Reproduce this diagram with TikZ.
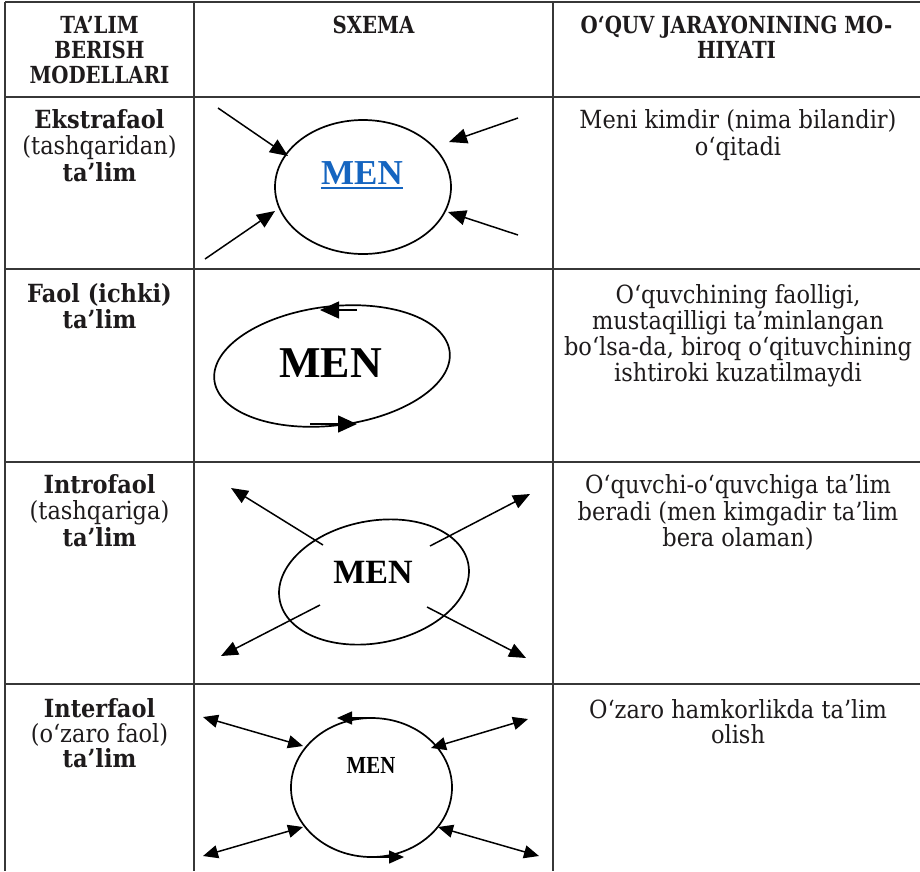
\documentclass[tikz,border=0pt]{standalone}
\usepackage{fontspec}
\setmainfont{DejaVu Serif}
\newfontfamily\bodyfont[FakeStretch=0.9]{DejaVu Serif}
\newfontfamily\headfont[FakeStretch=0.84]{DejaVu Serif}
\newfontfamily\menfont{Liberation Serif}
\usetikzlibrary{arrows.meta,shapes.geometric}
\definecolor{menblue}{RGB}{21,101,192}
\definecolor{ink}{RGB}{30,27,28}
\definecolor{rulec}{RGB}{55,55,55}
\begin{document}
\begin{tikzpicture}[x=1pt,y=-1pt,
  gridline/.style={draw=rulec, line width=1.6pt},
  txt/.style={anchor=base, inner sep=0, text=ink, font=\bodyfont\fontsize{25}{26}\selectfont},
  btxt/.style={anchor=base, inner sep=0, text=ink, font=\bodyfont\fontsize{25}{26}\selectfont\bfseries},
  hdr/.style={anchor=base, inner sep=0, text=ink, font=\headfont\fontsize{23.5}{24}\selectfont\bfseries},
  oval/.style={draw, ellipse, line width=1.7pt, inner sep=0},
  men/.style={anchor=base, inner sep=0},
  inarr/.style={line width=1.5pt, -{Triangle[length=18pt,width=15pt]}},
  ringarr/.style={line width=1.5pt, -{Triangle[length=19pt,width=17pt]}},
  outarr/.style={line width=1.5pt, -{Triangle[length=17pt,width=14pt]}},
  dblarr/.style={line width=1.5pt, {Triangle[length=15pt,width=13pt]}-{Triangle[length=15pt,width=13pt]}},
  smallarr/.style={line width=1.5pt, -{Triangle[length=15pt,width=13pt]}}
]
\useasboundingbox (0,0) rectangle (920,871);
\fill[white] (0,0) rectangle (920,871);

% table grid
\foreach \yy in {2,97,269,462,684} \draw[gridline] (5,\yy) -- (920,\yy);
\foreach \xx in {5,194,553} \draw[gridline] (\xx,2) -- (\xx,871);

% header
\node[hdr] (h1a) at (99.5,33.5) {TA’LIM};
\node[hdr] (h1b) at (99.5,58) {BERISH};
\node[hdr] (h1c) at (99.5,83) {MODELLARI};
\node[hdr] (h2a) at (373.5,33.5) {SXEMA};
\node[hdr] (h3a) at (736.5,33.5) {O‘QUV JARAYONINING MO-};
\node[hdr] (h3b) at (736.5,58) {HIYATI};

% left column
\node[btxt] (l1a) at (99.5,128) {Ekstrafaol};
\node[txt]  (l1b) at (99.5,154) {(tashqaridan)};
\node[btxt] (l1c) at (99.5,181) {ta’lim};
\node[btxt] (l2a) at (99.5,302) {Faol (ichki)};
\node[btxt] (l2b) at (99.5,328) {ta’lim};
\node[btxt] (l3a) at (99.5,493) {Introfaol};
\node[txt]  (l3b) at (99.5,519) {(tashqariga)};
\node[btxt] (l3c) at (99.5,546) {ta’lim};
\node[btxt] (l4a) at (99.5,717) {Interfaol};
\node[txt]  (l4b) at (99.5,742) {(o‘zaro faol)};
\node[btxt] (l4c) at (99.5,767) {ta’lim};

% right column
\node[txt] (r1a) at (738,128) {Meni kimdir (nima bilandir)};
\node[txt] (r1b) at (738,155) {o‘qitadi};
\node[txt] (r2a) at (738,303) {O‘quvchining faolligi,};
\node[txt] (r2b) at (738,329) {mustaqilligi ta’minlangan};
\node[txt] (r2c) at (738,355) {bo‘lsa-da, biroq o‘qituvchining};
\node[txt] (r2d) at (738,381) {ishtiroki kuzatilmaydi};
\node[txt] (r3a) at (738,493) {O‘quvchi-o‘quvchiga ta’lim};
\node[txt] (r3b) at (738,520) {beradi (men kimgadir ta’lim};
\node[txt] (r3c) at (738,546) {bera olaman)};
\node[txt] (r4a) at (738,718) {O‘zaro hamkorlikda ta’lim};
\node[txt] (r4b) at (738,743) {olish};

% ---- row 1: Ekstrafaol
\node[oval, minimum width=176pt, minimum height=134pt] (e1) at (363,187) {};
\node[men, text=menblue, font=\menfont\bfseries\fontsize{35}{35}\selectfont] (m1) at (362,184) {MEN};
\draw[menblue, line width=1.8pt] ([yshift=-4pt]m1.base west) -- ([yshift=-4pt]m1.base east);
\coordinate (a1s) at (218,108); \coordinate (a1t) at (288,156);
\coordinate (a2s) at (518,118); \coordinate (a2t) at (449,142);
\coordinate (a3s) at (205,259); \coordinate (a3t) at (275,211);
\coordinate (a4s) at (518,235); \coordinate (a4t) at (448,212);
\draw[inarr] (a1s) -- (a1t);
\draw[inarr] (a2s) -- (a2t);
\draw[inarr] (a3s) -- (a3t);
\draw[inarr] (a4s) -- (a4t);

% ---- row 2: Faol
\node[oval, minimum width=237pt, minimum height=119pt, rotate=7] (e2) at (332,366) {};
\node[men, font=\menfont\bfseries\fontsize{44}{44}\selectfont] (m2) at (330.5,377) {MEN};
\coordinate (b1s) at (357,310); \coordinate (b1t) at (320,310);
\coordinate (b2s) at (310,424); \coordinate (b2t) at (357,424);
\draw[ringarr] (b1s) -- (b1t);
\draw[ringarr] (b2s) -- (b2t);

% ---- row 3: Introfaol
\node[oval, minimum width=192pt, minimum height=122pt, rotate=11] (e3) at (374,582) {};
\node[men, font=\menfont\bfseries\fontsize{34}{34}\selectfont] (m3) at (373,583) {MEN};
\coordinate (c1s) at (323,545); \coordinate (c1t) at (231,488);
\coordinate (c2s) at (430,546); \coordinate (c2t) at (530,494);
\coordinate (c3s) at (320,605); \coordinate (c3t) at (221,656);
\coordinate (c4s) at (427,607); \coordinate (c4t) at (526,658);
\draw[outarr] (c1s) -- (c1t);
\draw[outarr] (c2s) -- (c2t);
\draw[outarr] (c3s) -- (c3t);
\draw[outarr] (c4s) -- (c4t);

% ---- row 4: Interfaol
\node[oval, minimum width=161pt, minimum height=139pt] (e4) at (371.5,787.5) {};
\node[men, font=\menfont\bfseries\fontsize{24.5}{24.5}\selectfont] (m4) at (371,773) {\scalebox{0.85}[1]{MEN}};
\coordinate (d1s) at (203,717); \coordinate (d1t) at (303,746);
\coordinate (d2s) at (528,719); \coordinate (d2t) at (431,748);
\coordinate (d3s) at (203,856); \coordinate (d3t) at (303,827);
\coordinate (d4s) at (539,856); \coordinate (d4t) at (438,827);
\draw[dblarr] (d1s) -- (d1t);
\draw[dblarr] (d2s) -- (d2t);
\draw[dblarr] (d3s) -- (d3t);
\draw[dblarr] (d4s) -- (d4t);
\coordinate (f1s) at (370,718); \coordinate (f1t) at (337,718);
\coordinate (f2s) at (372,857); \coordinate (f2t) at (404,857);
\draw[smallarr] (f1s) -- (f1t);
\draw[smallarr] (f2s) -- (f2t);
\end{tikzpicture}
\end{document}
